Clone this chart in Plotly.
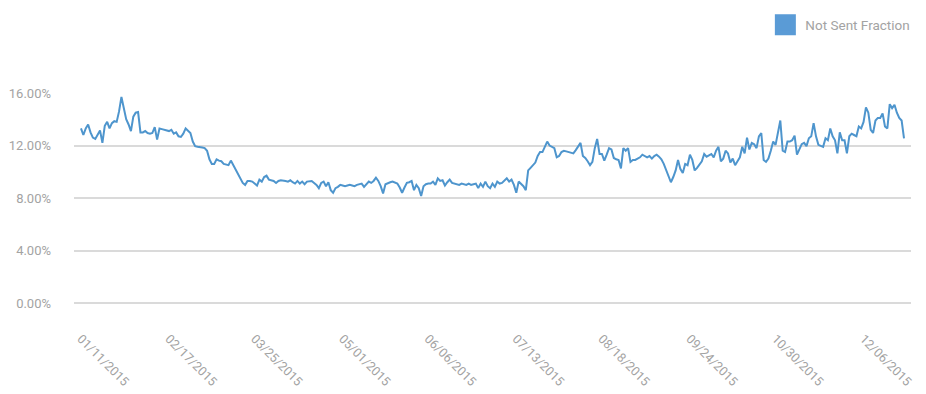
import pandas as pd
import plotly.graph_objects as go

start_date = "2015-01-11"
series_name = "Not Sent Fraction"

# Daily "not sent" fraction, in percent
jan_feb = [13.3, 12.8, 13.3, 13.6, 13.0, 12.6, 12.5, 12.8, 13.15, 12.2,
           13.5, 13.8, 13.3, 13.7, 13.85, 13.8, 14.6, 15.7, 14.8, 14.0,
           13.6, 13.1, 14.2, 14.5, 14.55, 13.0, 13.0, 13.1, 12.95, 12.9,
           12.95, 13.4, 12.45, 13.3, 13.25, 13.2, 13.1, 13.1, 13.2, 12.9,
           13.0, 12.7, 12.65, 12.9, 13.3, 13.1, 12.95, 12.3, 11.95]
mar_apr = [11.9, 11.9, 11.85, 11.8, 11.6, 10.95, 10.6, 10.6, 10.95, 10.85,
           10.8, 10.6, 10.55, 10.5, 10.85, 10.5, 10.1, 9.75, 9.4, 9.15,
           9.0, 9.3, 9.3, 9.25, 9.1, 8.95, 9.4, 9.25, 9.6, 9.7,
           9.4, 9.35, 9.3, 9.15, 9.3, 9.35, 9.35, 9.3, 9.25, 9.35,
           9.2, 9.1, 9.3, 9.1, 9.25, 9.05, 9.25, 9.25, 9.3, 9.15,
           9.0, 8.75, 9.15, 9.25, 8.9, 9.2, 8.6, 8.4, 8.75, 8.85]
may_jul = [9.0, 8.95, 8.9, 8.95, 9.0, 8.95, 8.9, 9.0, 9.05, 9.1,
           8.85, 9.05, 9.25, 9.15, 9.3, 9.55, 9.3, 8.9, 8.35, 9.05,
           9.15, 9.2, 9.25, 9.2, 9.1, 8.8, 8.4, 8.8, 9.15, 9.2,
           9.3, 8.6, 9.0, 8.75, 8.15, 8.9, 9.05, 9.1, 9.1, 9.25,
           9.0, 9.5, 9.3, 9.35, 8.95, 9.2, 9.4, 9.15, 9.1, 9.1,
           9.0, 9.1, 9.05, 9.0, 9.1, 9.0, 9.05, 9.1, 8.75, 9.1,
           8.85, 9.25, 8.9, 8.75, 9.1, 8.85, 9.25, 9.1, 9.15, 9.35,
           9.5, 9.25, 9.4, 9.0, 8.4, 9.25, 9.1, 8.9, 8.6, 10.1,
           10.3, 10.5, 10.7, 11.2, 11.5]
jul_dec = [11.5, 11.9, 12.3, 12.0, 11.9, 11.8, 11.1, 11.2, 11.5, 11.6,
           11.55, 11.5, 11.4, 11.4, 11.65, 11.9, 12.2, 11.2, 11.05, 10.8,
           10.5, 10.75, 11.8, 12.5, 11.35, 11.35, 10.85, 11.3, 11.8, 11.7,
           11.05, 10.95, 10.9, 10.25, 11.8, 11.6, 11.8, 10.75, 10.9, 10.9,
           11.0, 11.1, 11.3, 11.2, 11.1, 11.2, 11.0, 11.2, 11.3, 11.15,
           10.95, 10.6, 10.1, 9.75, 9.2, 9.6, 10.1, 10.9, 10.2, 9.9,
           10.6, 10.5, 11.3, 10.9, 10.1, 10.3, 10.6, 10.8, 11.35, 11.15,
           11.25, 11.35, 11.1, 11.6, 11.9, 10.8, 11.0, 11.6, 11.4, 10.7,
           11.0, 10.5, 10.8, 11.1, 11.9, 11.4, 12.6, 11.7, 12.2, 12.1,
           11.8, 12.7, 12.95, 10.9, 10.75, 11.0, 11.6, 12.3, 12.05, 13.1,
           13.9, 11.6, 11.5, 12.3, 12.3, 12.4, 12.75, 11.3, 11.65, 12.1,
           12.2, 11.95, 12.55, 12.7, 13.7, 12.7, 12.05, 11.95, 11.9, 12.55,
           12.4, 13.3, 12.7, 12.4, 11.4, 13.0, 12.4, 12.4, 11.4, 12.7,
           12.9, 12.8, 12.7, 13.45, 13.3, 13.8, 14.9, 14.5, 13.2, 12.95,
           13.9, 14.1, 14.1, 14.45, 13.45, 13.3, 15.15, 14.85, 15.1, 14.5,
           14.1, 13.9, 12.55]

values = jan_feb + mar_apr + may_jul + jul_dec
dates = pd.date_range(start_date, periods=len(values), freq="D")

tick_dates = ["2015-01-11", "2015-02-17", "2015-03-25", "2015-05-01", "2015-06-06",
              "2015-07-13", "2015-08-18", "2015-09-24", "2015-10-30", "2015-12-06"]
tick_labels = [pd.Timestamp(d).strftime("%m/%d/%Y") for d in tick_dates]
y_ticks = [0, 4, 8, 12, 16]

line_color = "#4e95cd"
legend_color = "#5a9bd6"
text_color = "#a3a3a3"
grid_color = "#dadada"

fig = go.Figure()
fig.add_trace(go.Scatter(x=dates, y=values, mode="lines",
                         line=dict(color=line_color, width=2),
                         showlegend=False, name=series_name))
fig.add_trace(go.Scatter(x=[None], y=[None], mode="markers", name=series_name,
                         marker=dict(symbol="square", size=16, color=legend_color,
                                     line=dict(color=legend_color, width=5))))

pad = pd.Timedelta(days=2.94)
fig.update_layout(
    width=918, height=386,
    margin=dict(l=66, r=15, t=85, b=91, autoexpand=False),
    paper_bgcolor="white", plot_bgcolor="white",
    font=dict(family="Roboto", size=12, color=text_color),
    legend=dict(x=0.826, y=1.324, xanchor="left", yanchor="middle",
                font=dict(size=13.5, color=text_color), itemsizing="trace"),
    xaxis=dict(range=[dates[0] - pad, dates[-1] + pad], automargin=False,
               tickvals=tick_dates, ticktext=tick_labels, tickangle=45,
               showgrid=False, zeroline=False, showline=False,
               ticks="", ticklabelstandoff=25,
               tickfont=dict(size=12.5, color=text_color)),
    yaxis=dict(range=[0, 16], tickvals=y_ticks, automargin=False,
               ticktext=[f"{v:.2f}%" for v in y_ticks],
               showgrid=True, gridcolor=grid_color, gridwidth=1.5,
               zeroline=True, zerolinecolor=grid_color, zerolinewidth=1.5,
               showline=False, ticks="",
               ticklabelstandoff=22,
               tickfont=dict(size=13, color=text_color)),
)

fig.write_html("out.html")
